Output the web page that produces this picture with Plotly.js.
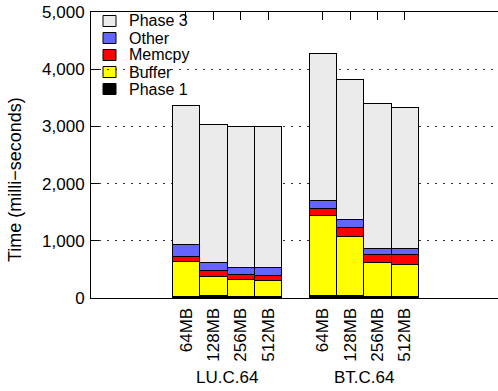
<!DOCTYPE html>
<html>
<head>
<meta charset="utf-8">
<script src="https://cdn.plot.ly/plotly-3.0.1.min.js"></script>
<style>
  html, body { margin: 0; padding: 0; background: #fff; }
  #chart { width: 498px; height: 391px; }
</style>
</head>
<body>
<div id="chart"></div>
<script>
// Benchmarks and buffer sizes
const groups = ['LU.C.64', 'BT.C.64'];
const sizes = ['64MB', '128MB', '256MB', '512MB'];

// Time per phase in milliseconds, ordered LU 64..512 then BT 64..512
const phase1 = [30, 40, 23, 23, 40, 40, 23, 23];
const buffer = [610, 332, 297, 285, 1399, 1032, 606, 571];
const memcpy = [87, 105, 87, 88, 128, 163, 140, 158];
const other  = [200, 152, 135, 134, 129, 146, 105, 110];
const phase3 = [2430, 2401, 2465, 2477, 2580, 2435, 2529, 2477];

// Y axis ticks
const yTicks = [0, 1000, 2000, 3000, 4000, 5000];

const seriesNames  = ['Phase 1', 'Buffer', 'Memcpy', 'Other', 'Phase 3'];
const seriesValues = [phase1, buffer, memcpy, other, phase3];
const seriesColors = ['#000000', '#ffff00', '#ff0000', '#6464ff', '#ebebeb'];

// Bars sit on integer slots; one empty slot separates the two benchmarks
const xPos = [];
const xText = [];
groups.forEach((g, gi) => {
  sizes.forEach((s, si) => {
    xPos.push(gi * (sizes.length + 1) + si);
    xText.push(s);
  });
});

const FONT = 'Liberation Sans, Arial, Helvetica, sans-serif';

const traces = seriesNames.map((name, i) => ({
  type: 'bar',
  name: name,
  x: xPos,
  y: seriesValues[i],
  width: 1,
  marker: { color: seriesColors[i], line: { color: '#000', width: 1 } },
  hoverinfo: 'name+y'
}));

// Plot-area geometry in pixels, used to place the key and labels
const W = 498, H = 391;
const M = { l: 91, r: 0, t: 12, b: 93 };
const PW = W - M.l - M.r, PH = H - M.t - M.b;
const px = x => (x - M.l) / PW;
const py = y => (M.t + PH - y) / PH;

const shapes = [];
const annotations = [];

// Key: top entry is the top of the stack
const keyOrder = seriesNames.map((n, i) => i).reverse();
keyOrder.forEach((si, row) => {
  const cy = 21 + row * 17;
  shapes.push({
    type: 'rect', xref: 'paper', yref: 'paper', layer: 'below',
    x0: px(103), x1: px(116), y0: py(cy + 5.5), y1: py(cy - 5.5),
    fillcolor: seriesColors[si], line: { color: '#000', width: 1 }
  });
  annotations.push({
    xref: 'paper', yref: 'paper', x: px(127), y: py(cy),
    xanchor: 'left', yanchor: 'middle', showarrow: false,
    text: seriesNames[si], font: { family: FONT, size: 16, color: '#000' }
  });
});

// Benchmark names under each group of bars
groups.forEach((g, gi) => {
  const start = gi * (sizes.length + 1);
  annotations.push({
    xref: 'x', yref: 'paper', x: start + (sizes.length - 1) / 2, y: py(377),
    xanchor: 'center', yanchor: 'middle', showarrow: false,
    text: g, font: { family: FONT, size: 17, color: '#000' }
  });
});

// Y axis title
annotations.push({
  xref: 'paper', yref: 'paper', x: px(15), y: py(180),
  xanchor: 'center', yanchor: 'middle', showarrow: false, textangle: -90,
  text: 'Time (milli\u2212seconds)', font: { family: FONT, size: 18, color: '#000' }
});

const layout = {
  width: W, height: H,
  margin: M,
  paper_bgcolor: '#fff', plot_bgcolor: '#fff',
  barmode: 'stack', bargap: 0,
  showlegend: false,
  font: { family: FONT, size: 17, color: '#000' },
  xaxis: {
    range: [-3.47, 11.40],
    tickvals: xPos, ticktext: xText, tickangle: -90,
    ticks: 'inside', ticklen: 8, tickcolor: '#000', tickwidth: 1,
    showline: true, linecolor: '#000', linewidth: 1, mirror: 'ticks',
    showgrid: false, zeroline: false, layer: 'below traces',
    tickfont: { family: FONT, size: 17, color: '#000' },
    ticklabelstandoff: 2, fixedrange: true
  },
  yaxis: {
    range: [0, 5000],
    tickvals: yTicks, tickformat: ',d',
    ticks: 'inside', ticklen: 8, tickcolor: '#000', tickwidth: 1,
    showline: true, linecolor: '#000', linewidth: 1,
    showgrid: true, gridcolor: '#333', gridwidth: 1, griddash: '2px,6px',
    zeroline: false,
    tickfont: { family: FONT, size: 17, color: '#000' },
    ticklabelstandoff: 2, fixedrange: true
  },
  shapes: shapes,
  annotations: annotations
};

Plotly.newPlot('chart', traces, layout, { staticPlot: true, displayModeBar: false });
</script>
</body>
</html>
